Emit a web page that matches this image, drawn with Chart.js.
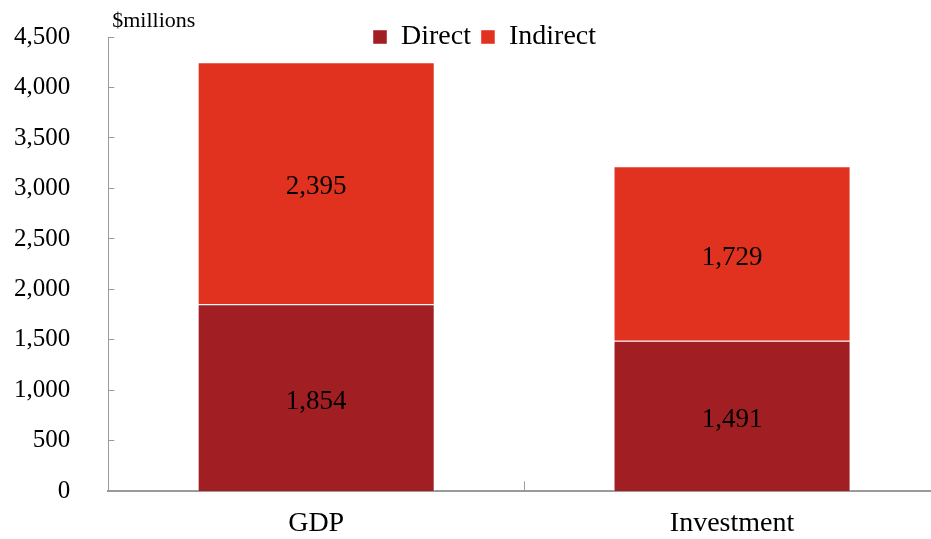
<!DOCTYPE html>
<html lang="en">
<head>
    <meta charset="UTF-8">
    <title>Direct and indirect contribution</title>
    <script src="https://cdn.jsdelivr.net/npm/chart.js"></script>
    <style>
        html, body {
            margin: 0;
            padding: 0;
            overflow: hidden;
            background: #fff;
        }
        /* canvas pushed up a bit: the y-axis tick padding reserves room above the plot */
        .chart-container {
            position: absolute;
            left: 0;
            top: -22px;
            width: 940px;
            height: 587px;
        }
    </style>
</head>
<body>
    <div class="chart-container">
        <canvas id="impactChart"></canvas>
    </div>

    <script>
        // data
        const categories = ['GDP', 'Investment'];
        const directValues = [1854, 1491];
        const indirectValues = [2395, 1729];
        const seriesNames = ['Direct', 'Indirect'];
        const yTicks = [0, 500, 1000, 1500, 2000, 2500, 3000, 3500, 4000, 4500];

        const serif = "'Liberation Serif', 'DejaVu Serif', serif";
        const fmt = v => v.toLocaleString('en-US');
        const SHIFT = 22;

        // numbers in the middle of each segment + unit label + legend placement
        const extras = {
            id: 'extras',
            afterLayout(chart) {
                const lg = chart.legend;
                if (!lg) return;
                const w = lg.width;
                lg.left = 363;
                lg.top = 13 + SHIFT;
                lg.right = lg.left + w;
                lg.bottom = lg.top + 40;
            },
            afterDatasetsDraw(chart) {
                const ctx = chart.ctx;
                ctx.save();
                ctx.font = '27px ' + serif;
                ctx.fillStyle = '#000';
                ctx.textAlign = 'center';
                ctx.textBaseline = 'middle';
                chart.data.datasets.forEach((ds, i) => {
                    chart.getDatasetMeta(i).data.forEach((bar, j) => {
                        const y = (bar.y + bar.base) / 2 + 4;
                        ctx.fillText(fmt(ds.data[j]), bar.x, y);
                    });
                });
                ctx.font = '22px ' + serif;
                ctx.textAlign = 'left';
                ctx.fillText('$millions', chart.chartArea.left + 4, 21 + SHIFT);
                ctx.restore();
            }
        };

        const ctx = document.getElementById('impactChart').getContext('2d');
        new Chart(ctx, {
            type: 'bar',
            data: {
                labels: categories,
                datasets: [
                    {
                        label: seriesNames[0],
                        data: directValues,
                        backgroundColor: '#A11F22',
                        borderColor: 'rgba(255,255,255,0.45)',
                        borderWidth: 1
                    },
                    {
                        label: seriesNames[1],
                        data: indirectValues,
                        backgroundColor: '#E0321F',
                        borderColor: 'rgba(255,255,255,0.45)',
                        borderWidth: 1
                    }
                ]
            },
            options: {
                responsive: true,
                maintainAspectRatio: false,
                animation: false,
                datasets: {
                    bar: {
                        categoryPercentage: 1,
                        barPercentage: 0.57
                    }
                },
                layout: {
                    padding: { top: 0, right: 0, left: -30, bottom: 0 }
                },
                plugins: {
                    legend: {
                        position: 'top',
                        align: 'start',
                        maxHeight: 1,
                        labels: {
                            boxWidth: 14,
                            boxHeight: 14,
                            padding: 10,
                            color: '#000',
                            font: { family: serif, size: 28 }
                        }
                    },
                    tooltip: { enabled: false }
                },
                scales: {
                    x: {
                        stacked: true,
                        border: { color: '#9a9a9a', width: 2 },
                        grid: {
                            drawOnChartArea: false,
                            color: '#9a9a9a',
                            tickLength: -10
                        },
                        ticks: {
                            color: '#000',
                            padding: 25,
                            font: { family: serif, size: 28 }
                        }
                    },
                    y: {
                        stacked: true,
                        min: 0,
                        max: 4500,
                        afterBuildTicks: axis => {
                            axis.ticks = yTicks.map(v => ({ value: v }));
                        },
                        border: { color: '#9a9a9a', width: 1 },
                        grid: {
                            drawOnChartArea: false,
                            color: '#9a9a9a',
                            tickLength: -6
                        },
                        ticks: {
                            color: '#000',
                            padding: 44,
                            font: { family: serif, size: 25 },
                            callback: v => fmt(v)
                        }
                    }
                }
            },
            plugins: [extras]
        });
    </script>
</body>
</html>
